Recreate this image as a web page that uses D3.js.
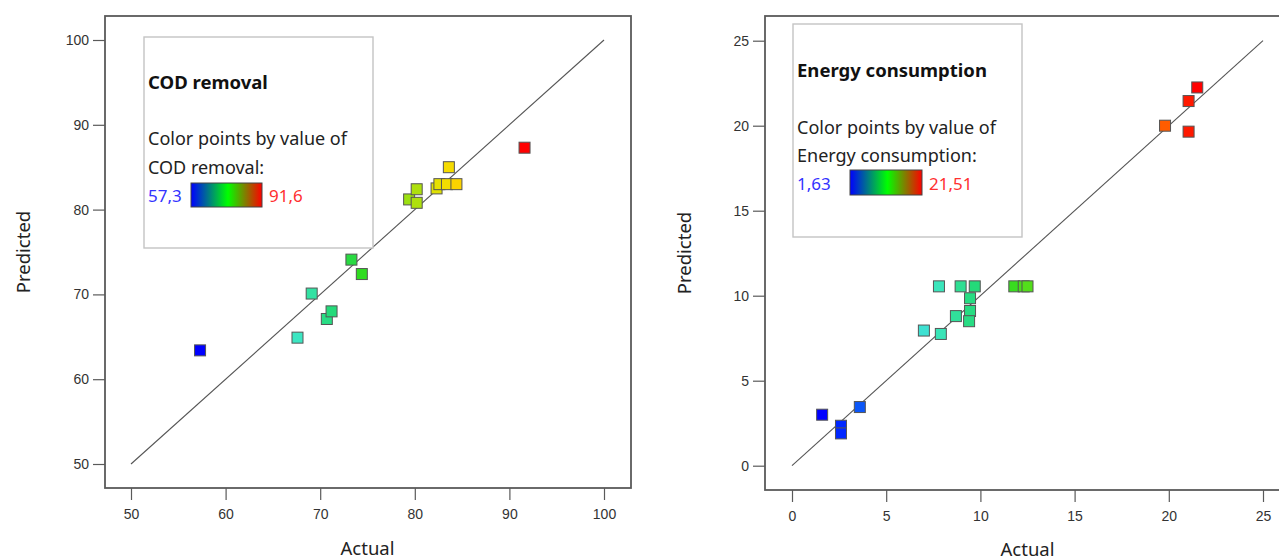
<!DOCTYPE html>
<html><head><meta charset="utf-8">
<script src="https://cdn.jsdelivr.net/npm/d3@7"></script>
<style>
html,body{margin:0;padding:0;background:#fff;}
svg{display:block;font-family:"Noto Sans","Open Sans",sans-serif;}
</style></head>
<body>
<svg id="chart" width="1279" height="560"></svg>
<script>
// ---------- DATA ----------
const codActual    = [57.3, 67.6, 69.1, 70.7, 71.2, 73.3, 74.4, 79.4, 80.2, 80.2, 82.3, 82.6, 83.4, 84.4, 83.6, 91.6];
const codPredicted = [63.4, 64.9, 70.1, 67.1, 68.0, 74.1, 72.4, 81.2, 82.4, 80.8, 82.5, 83.0, 83.0, 83.0, 85.0, 87.3];
const codTicks = [50, 60, 70, 80, 90, 100];
const codRange = [57.3, 91.6];
const codRangeLabels = ["57,3", "91,6"];

const energyActual    = [1.6, 2.6, 2.6, 3.6, 7.0, 7.9, 7.8, 8.95, 9.7, 9.45, 8.7, 9.45, 9.4, 11.8, 12.3, 12.5, 19.8, 21.05, 21.05, 21.51];
const energyPredicted = [3.0, 2.35, 1.9, 3.45, 7.95, 7.75, 10.55, 10.55, 10.55, 9.85, 8.8, 9.1, 8.5, 10.55, 10.55, 10.55, 20.0, 21.45, 19.65, 22.25];
const energyTicks = [0, 5, 10, 15, 20, 25];
const energyRange = [1.63, 21.51];
const energyRangeLabels = ["1,63", "21,51"];

const xTitle = "Actual";
const yTitle = "Predicted";
const legendLine1 = "Color points by value of";

// ---------- DRAW ----------
const svg = d3.select("#chart");

const colorStops = [0, 0.08, 0.12, 0.28, 0.36, 0.42, 0.5, 0.65, 0.75, 0.8, 0.91, 1];
const colorVals  = ["#0000ff","#0040ff","#1a70f0","#40e8d0","#30e098","#20d870","#30dc20","#a0e010","#f0e000","#ffd000","#ff6000","#ff0000"];
const pointColor = d3.scaleLinear().domain(colorStops).range(colorVals).interpolate(d3.interpolateRgb).clamp(true);

const defs = svg.append("defs");
const grad = defs.append("linearGradient").attr("id","cbar").attr("x1","0%").attr("x2","100%").attr("y1","0%").attr("y2","0%");
grad.append("stop").attr("offset","0%").attr("stop-color","#0000ff");
grad.append("stop").attr("offset","52%").attr("stop-color","#00ff00");
grad.append("stop").attr("offset","100%").attr("stop-color","#ff0000");

function panel(cfg){
  const g = svg.append("g");
  const x = d3.scaleLinear().domain([cfg.ticks[0], cfg.ticks[cfg.ticks.length-1]]).range(cfg.xr);
  const y = d3.scaleLinear().domain([cfg.ticks[0], cfg.ticks[cfg.ticks.length-1]]).range(cfg.yr);
  const f = cfg.frame;

  g.append("rect").attr("x",f[0]).attr("y",f[1]).attr("width",f[2]-f[0]).attr("height",f[3]-f[1])
    .attr("fill","none").attr("stroke","#5a5a5a").attr("stroke-width",1.8);

  const xa = g.append("g").attr("transform",`translate(0,${f[3]})`)
    .call(d3.axisBottom(x).tickValues(cfg.ticks).tickSize(12).tickPadding(9).tickFormat(d3.format("d")));
  xa.select(".domain").remove();
  xa.selectAll("line").attr("stroke","#5a5a5a").attr("stroke-width",1.2);
  xa.selectAll("text").attr("fill","#333").style("font-size","14px");

  const ya = g.append("g").attr("transform",`translate(${f[0]},0)`)
    .call(d3.axisLeft(y).tickValues(cfg.ticks).tickSize(12).tickPadding(4).tickFormat(d3.format("d")));
  ya.select(".domain").remove();
  ya.selectAll("line").attr("stroke","#5a5a5a").attr("stroke-width",1.2);
  ya.selectAll("text").attr("fill","#333").style("font-size","14px");

  g.append("text").attr("x",(x.range()[0]+x.range()[1])/2).attr("y",cfg.xTitleY).attr("text-anchor","middle")
    .attr("dominant-baseline","central").style("font-size","18.5px").attr("fill","#222").text(xTitle);
  g.append("text").attr("transform",`translate(${cfg.yTitleX},${(f[1]+f[3])/2}) rotate(-90)`).attr("text-anchor","middle")
    .attr("dominant-baseline","central").style("font-size","18.5px").attr("fill","#222").text(yTitle);

  const lo = cfg.ticks[0], hi = cfg.ticks[cfg.ticks.length-1];
  g.append("line").attr("x1",x(lo)).attr("y1",y(lo)).attr("x2",x(hi)).attr("y2",y(hi))
    .attr("stroke","#555").attr("stroke-width",1.1);

  const L = cfg.legend;
  g.append("rect").attr("x",L.box[0]).attr("y",L.box[1]).attr("width",L.box[2]-L.box[0]).attr("height",L.box[3]-L.box[1])
    .attr("fill","#fff").attr("stroke","#c4c4c4").attr("stroke-width",1.4);
  g.append("text").attr("x",L.tx).attr("y",L.titleY).attr("dominant-baseline","central")
    .style("font-size","18.5px").style("font-weight","bold").attr("fill","#111").text(cfg.name);
  g.append("text").attr("x",L.tx).attr("y",L.l1Y).attr("dominant-baseline","central")
    .style("font-size","18px").attr("fill","#222").text(legendLine1);
  g.append("text").attr("x",L.tx).attr("y",L.l2Y).attr("dominant-baseline","central")
    .style("font-size","18px").attr("fill","#222").text(cfg.name + ":");
  g.append("text").attr("x",L.tx).attr("y",L.rowY).attr("dominant-baseline","central")
    .style("font-size","17px").attr("fill","#3333ff").text(cfg.rangeLabels[0]);
  g.append("rect").attr("x",L.bar[0]).attr("y",L.bar[1]).attr("width",L.bar[2]-L.bar[0]).attr("height",L.bar[3]-L.bar[1])
    .attr("fill","url(#cbar)").attr("stroke","#444").attr("stroke-width",1);
  g.append("text").attr("x",L.maxX).attr("y",L.rowY).attr("dominant-baseline","central")
    .style("font-size","17px").attr("fill","#ff3030").text(cfg.rangeLabels[1]);

  const data = cfg.actual.map((a,i)=>({a, p: cfg.predicted[i]}));
  const s = 11;
  const t = v => (v - cfg.range[0])/(cfg.range[1]-cfg.range[0]);
  g.append("g").selectAll("rect").data(data).join("rect")
    .attr("x",d=>x(d.a)-s/2).attr("y",d=>y(d.p)-s/2).attr("width",s).attr("height",s)
    .attr("fill",d=>pointColor(t(d.a))).attr("stroke","#555").attr("stroke-width",1);
}

panel({
  name:"COD removal", actual:codActual, predicted:codPredicted, ticks:codTicks,
  range:codRange, rangeLabels:codRangeLabels,
  xr:[131,604], yr:[464,40], frame:[105,16,631,488], xTitleY:547, yTitleX:22,
  legend:{box:[144,37,373,248], tx:148, titleY:81, l1Y:138, l2Y:167, rowY:195, bar:[191,183,262,207], maxX:269}
});

panel({
  name:"Energy consumption", actual:energyActual, predicted:energyPredicted, ticks:energyTicks,
  range:energyRange, rangeLabels:energyRangeLabels,
  xr:[792,1263], yr:[465.7,40.7], frame:[765,16,1292,490], xTitleY:548, yTitleX:683,
  legend:{box:[793,24,1022,237], tx:797, titleY:69, l1Y:127, l2Y:155, rowY:183, bar:[850,170,922,195], maxX:929}
});
</script>
</body></html>
